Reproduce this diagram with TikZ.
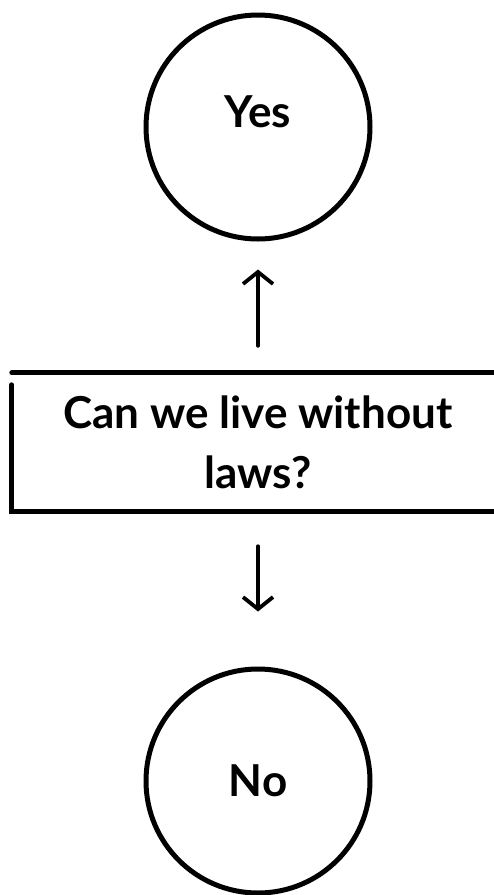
\documentclass[tikz,border=0pt]{standalone}
\usepackage{fontspec}
\setmainfont{Lato}
\usetikzlibrary{arrows.meta, positioning}

\tikzset{
  circ/.style={draw, circle, line width=5pt, minimum size=224pt, inner sep=0pt},
  qbox/.style={minimum width=472pt, minimum height=138pt, align=center},
  boxline/.style={line width=5pt, line cap=round},
  conn/.style={line width=3.8pt, line cap=round, -{Straight Barb[length=12pt,width=30pt,line width=3.8pt]}},
  lbl/.style={font=\fontsize{44}{60}\selectfont\bfseries}
}

\begin{document}
\begin{tikzpicture}[x=1pt, y=-1pt]
  \useasboundingbox (0,0) rectangle (494,895);

  % question box, open on the right where the page cuts it
  \node[qbox, lbl] (q) at (258,442) {Can we live without\\laws?};
  \draw[boxline] ([xshift=10pt]q.north east) -- ([xshift=-10pt]q.north west);
  \draw[boxline] ([shift={(-10pt,-12pt)}]q.north west) -- ([xshift=-10pt]q.south west) -- ([xshift=10pt]q.south east);

  % answers
  \node[circ, label={[lbl, yshift=15pt]center:Yes}] (yes) at (258,127) {};
  \node[circ, lbl] (no) at (258,781) {No};

  \draw[conn, shorten <=27pt, shorten >=28pt] (q.north) -- (yes.south);
  \draw[conn, shorten <=35pt, shorten >=55pt] (q.south) -- (no.north);
\end{tikzpicture}
\end{document}
